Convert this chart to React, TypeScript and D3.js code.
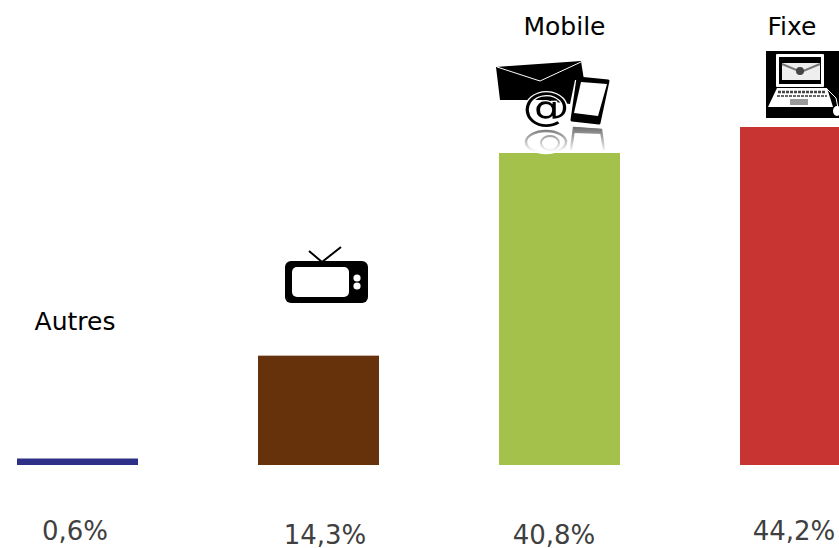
import React from "react";
import * as d3 from "d3";

const categories = ["Autres", "TV", "Mobile", "Fixe"];
const shares = [0.6, 14.3, 40.8, 44.2];
const shareLabels = ["0,6%", "14,3%", "40,8%", "44,2%"];
const categoryLabels = ["Autres", "", "Mobile", "Fixe"];
const barColors = ["#2e3087", "#66320b", "#a3c14b", "#c73431"];

const WIDTH = 839;
const HEIGHT = 548;
const BASELINE = 465;
const MIN_BAR = 6.5; // the thin bar is thicker than its value in the original
const FONT = "'DejaVu Sans', Verdana, sans-serif";

// labels were hand placed in the original, they do not follow the bars exactly
const nameSpots = [
    { x: 75, y: 330 },
    { x: 0, y: 0 },
    { x: 564.5, y: 35 },
    { x: 792, y: 35 },
];
const shareSpots = [
    { x: 75, y: 540 },
    { x: 325, y: 544 },
    { x: 554, y: 544 },
    { x: 794, y: 540 },
];

const x = d3.scaleBand<string>()
    .domain(categories)
    .range([-103, 981])
    .padding(120 / 241);
const y = d3.scaleLinear().domain([0, 44.2]).range([BASELINE, 127]);

const TvIcon = () => (
    <g filter="url(#soft)">
        <polyline points="309,251 322,262 341,247" fill="none" stroke="#000" strokeWidth={2} />
        <rect x={285} y={261} width={83} height={42} rx={6} fill="#000" />
        <rect x={292} y={267} width={57} height={30} rx={5} fill="#fff" />
        <circle cx={357} cy={278} r={3.6} fill="#fff" />
        <circle cx={357} cy={286} r={3.6} fill="#fff" />
    </g>
);

const MobileIcon = () => (
    <g filter="url(#soft)">
        {/* reflection */}
        <g fill="none" stroke="url(#fade)">
            <ellipse cx={546} cy={142} rx={20} ry={11} strokeWidth={2.5} />
            <ellipse cx={550} cy={143} rx={9} ry={7} strokeWidth={2} />
            <polyline points="571,150 574,128 601,130 604,150" strokeWidth={2.5} />
        </g>
        <polygon points="573,127 601,129 602,134 573,133" fill="url(#fade)" />
        <polygon points="496,67 581,61 584,80 575,80 570,104 541,100 500,100" fill="#000" />
        <polyline points="497,67 540,81 581,62" fill="none" stroke="#fff" strokeWidth={1} />
        <g transform="translate(546,107) scale(1.12,0.92)">
            <text x={0} y={14} textAnchor="middle" fontFamily={FONT} fontSize={42} fill="#000"
                stroke="#fff" strokeWidth={2.5} paintOrder="stroke">@</text>
        </g>
        <polygon points="578,78 608,81 599,123 572,120" fill="#000" stroke="#000" strokeWidth={3} strokeLinejoin="round" />
        <polygon points="581,82 607,84 598,116 574,113" fill="#fff" />
    </g>
);

const LaptopIcon = () => (
    <g filter="url(#softer)">
        <rect x={766} y={51} width={73} height={67} fill="#000" />
        <rect x={776} y={54} width={48} height={33} rx={1} fill="#fff" />
        <rect x={779} y={57} width={42} height={27} fill="#000" />
        <rect x={782} y={63} width={38} height={17} fill="#eee" />
        <polyline points="782,64 801,72 820,64" fill="none" stroke="#777" strokeWidth={2} />
        <circle cx={800} cy={71} r={4} fill="#444" />
        <polygon points="777,88 827,88 833,107 768,107" fill="#fff" />
        <line x1={778} y1={92} x2={826} y2={92} stroke="#444" strokeWidth={2.5} strokeDasharray="3 1" />
        <line x1={777} y1={96} x2={827} y2={96} stroke="#666" strokeWidth={2} strokeDasharray="3 1" />
        <rect x={790} y={99} width={18} height={6} fill="#999" />
        <polyline points="826,88 836,98 838,108" fill="none" stroke="#fff" strokeWidth={1} />
        <ellipse cx={837} cy={111} rx={4} ry={5} fill="#fff" />
    </g>
);

export default function App() {
    return (
        <svg width={WIDTH} height={HEIGHT} viewBox={`0 0 ${WIDTH} ${HEIGHT}`}
            style={{ position: "absolute", left: 0, top: 0, background: "#fff" }}>
            <defs>
                <filter id="soft" x="-10%" y="-10%" width="120%" height="120%">
                    <feGaussianBlur stdDeviation={0.5} />
                </filter>
                <filter id="softer" x="-10%" y="-10%" width="120%" height="120%">
                    <feGaussianBlur stdDeviation={0.7} />
                </filter>
                <linearGradient id="fade" gradientUnits="userSpaceOnUse" x1={0} y1={126} x2={0} y2={152}>
                    <stop offset="0%" stopColor="#666" />
                    <stop offset="100%" stopColor="#fff" />
                </linearGradient>
            </defs>
            {categories.map((c, i) => {
                const h = Math.max(BASELINE - y(shares[i]), MIN_BAR);
                return (
                    <rect key={c} x={x(c)} y={BASELINE - h} width={x.bandwidth()}
                        height={h} fill={barColors[i]} />
                );
            })}
            <TvIcon />
            <MobileIcon />
            <LaptopIcon />
            {categoryLabels.map((t, i) => t && (
                <text key={t} x={nameSpots[i].x} y={nameSpots[i].y} textAnchor="middle"
                    fontFamily={FONT} fontSize={25} fill="#000">{t}</text>
            ))}
            {shareLabels.map((t, i) => (
                <text key={t} x={shareSpots[i].x} y={shareSpots[i].y} textAnchor="middle"
                    fontFamily={FONT} fontSize={26} fill="#404040">{t}</text>
            ))}
        </svg>
    );
}
